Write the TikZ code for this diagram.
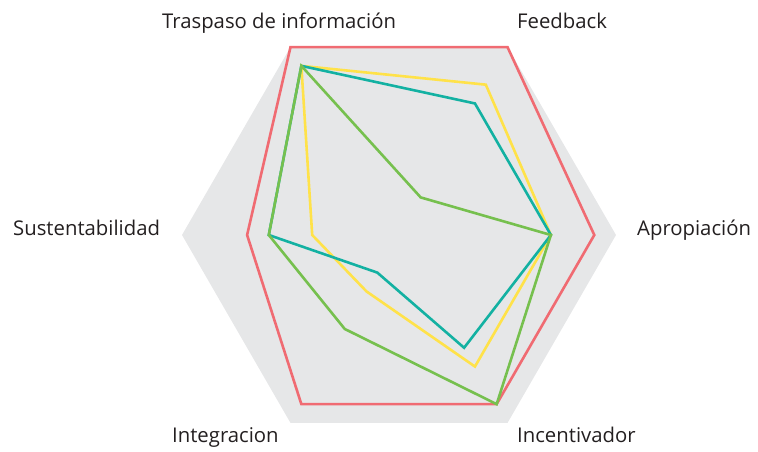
\documentclass[tikz,border=0pt]{standalone}
\usepackage{fontspec}
\setmainfont{Open Sans}
\definecolor{gris}{HTML}{E6E7E8}
\definecolor{rojo}{HTML}{F06B72}
\definecolor{amarillo}{HTML}{FFE249}
\definecolor{turquesa}{HTML}{13B1A2}
\definecolor{verde}{HTML}{76C04E}
\definecolor{texto}{HTML}{231F20}
\tikzset{
	linea/.style={line width=2.6pt,line join=miter},
	eje/.style={anchor=base west,inner sep=0pt,text=texto,font=\fontsize{20.3}{24}\selectfont}
}

\begin{document}
\begin{tikzpicture}[x=1pt,y=1pt]
	\useasboundingbox (0,0) rectangle (758,-451);

	\begin{scope}[shift={(399,-235)}]
		\fill[gris] (0:217) -- (60:217) -- (120:217) -- (180:217) -- (240:217) -- (300:217) -- cycle;

		% series: apropiacion, feedback, traspaso, sustentabilidad, integracion, incentivador
		\foreach \col/\a/\b/\c/\d/\e/\f in {rojo/0.9/1/1/0.7/0.9/0.9,
			amarillo/0.7/0.8/0.9/0.4/0.3/0.7,
			turquesa/0.7/0.7/0.9/0.6/0.2/0.6,
			verde/0.7/0.2/0.9/0.6/0.5/0.9} {
			\draw[linea,\col] (0:\a*217) -- (60:\b*217) -- (120:\c*217) -- (180:\d*217)
				-- (240:\e*217) -- (300:\f*217) -- cycle;
		};
	\end{scope}

	\node[eje] (traspaso) at (162,-28) {Traspaso de información};
	\node[eje] (feedback) at (517,-28) {Feedback};
	\node[eje] (sustent) at (13,-235) {Sustentabilidad};
	\node[eje] (apropia) at (637,-235) {Apropiación};
	\node[eje] (integra) at (172,-442) {Integracion};
	\node[eje] (incentiva) at (517,-442) {Incentivador};
\end{tikzpicture}
\end{document}
